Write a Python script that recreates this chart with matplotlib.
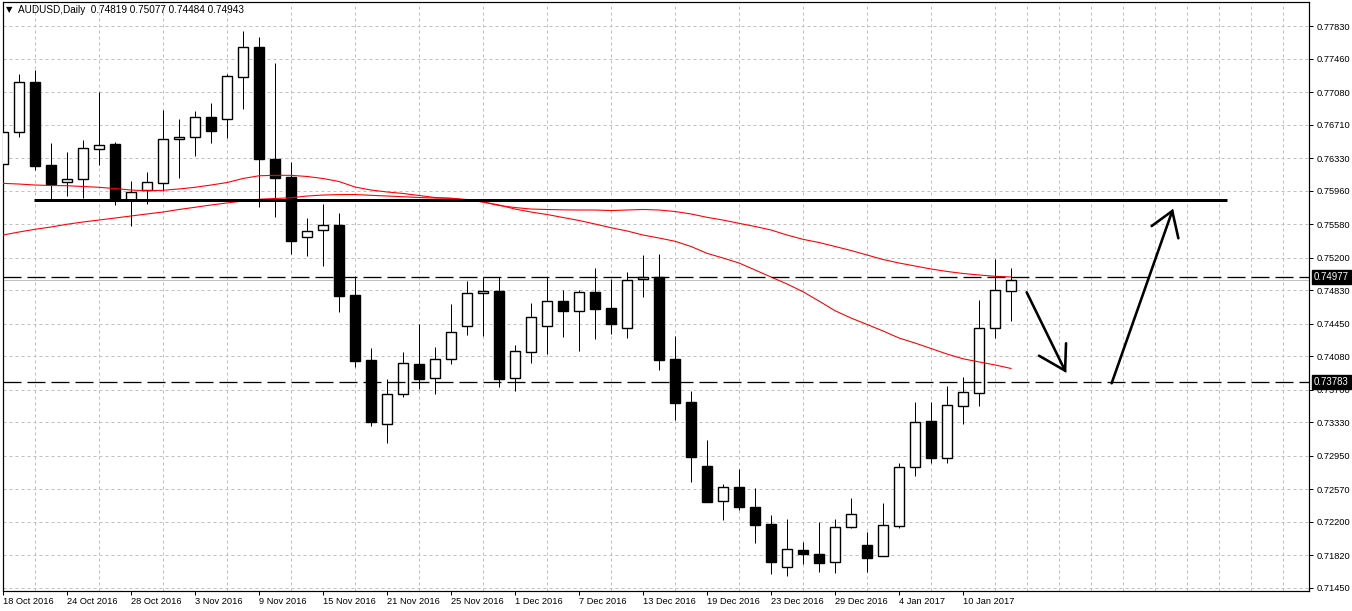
import matplotlib.pyplot as plt
from matplotlib.patches import Rectangle
from matplotlib.transforms import blended_transform_factory
import numpy as np

plt.rcParams['font.family'] = ['Liberation Sans', 'DejaVu Sans']

title = 'AUDUSD,Daily  0.74819 0.75077 0.74484 0.74943'

# daily bars, 18 Oct 2016 .. 13 Jan 2017
opens = [0.76259, 0.76623, 0.77194, 0.76251, 0.76062, 0.76089, 0.76430, 0.76490,
         0.75854, 0.75967, 0.76050, 0.76543, 0.76566, 0.76793, 0.76770, 0.77247,
         0.77588, 0.76316, 0.76115, 0.75430, 0.75509, 0.75570, 0.74775, 0.74036,
         0.73306, 0.73647, 0.73991, 0.73828, 0.74044, 0.74422, 0.74794, 0.74820,
         0.73828, 0.74131, 0.74419, 0.74703, 0.74596, 0.74805, 0.74627, 0.74396,
         0.74953, 0.74976, 0.74048, 0.73563, 0.72832, 0.72431, 0.72590, 0.72367,
         0.72170, 0.71682, 0.71875, 0.71829, 0.71739, 0.72143, 0.71932, 0.71807,
         0.72154, 0.72818, 0.73343, 0.72920, 0.73517, 0.73658, 0.74396, 0.74819]
highs = [0.76887, 0.77285, 0.77330, 0.76498, 0.76395, 0.76535, 0.77080, 0.76509,
         0.76069, 0.76175, 0.76876, 0.76774, 0.76865, 0.76952, 0.77285, 0.77773,
         0.77702, 0.77413, 0.76282, 0.75649, 0.75808, 0.75706, 0.74994, 0.74169,
         0.73820, 0.74124, 0.74445, 0.74181, 0.74672, 0.74934, 0.74976, 0.74976,
         0.74207, 0.74680, 0.74976, 0.74831, 0.74831, 0.75081, 0.74956, 0.75032,
         0.75229, 0.75240, 0.74312, 0.73684, 0.73128, 0.72628, 0.72798, 0.72582,
         0.72276, 0.72230, 0.71966, 0.72193, 0.72230, 0.72465, 0.72079, 0.72409,
         0.72863, 0.73556, 0.73556, 0.73741, 0.73840, 0.74718, 0.75184, 0.75077]
lows = [0.76228, 0.76573, 0.76194, 0.75854, 0.75899, 0.75880, 0.76251, 0.75797,
        0.75562, 0.75808, 0.75959, 0.76107, 0.76357, 0.76505, 0.76561, 0.76884,
        0.75778, 0.75664, 0.75240, 0.75218, 0.75104, 0.74585, 0.73960, 0.73290,
        0.73097, 0.73619, 0.73707, 0.73647, 0.73991, 0.74320, 0.74312, 0.73733,
        0.73688, 0.73999, 0.74104, 0.74301, 0.74142, 0.74275, 0.74332, 0.74290,
        0.74748, 0.73923, 0.73355, 0.72654, 0.72423, 0.72219, 0.72333, 0.71961,
        0.71602, 0.71586, 0.71719, 0.71632, 0.71620, 0.72125, 0.71632, 0.71807,
        0.72131, 0.72719, 0.72870, 0.72870, 0.73306, 0.73514, 0.74290, 0.74484]
closes = [0.76623, 0.77191, 0.76243, 0.76039, 0.76092, 0.76441, 0.76478, 0.75854,
          0.75941, 0.76055, 0.76543, 0.76573, 0.76793, 0.76641, 0.77259, 0.77588,
          0.76316, 0.76107, 0.75391, 0.75498, 0.75566, 0.74767, 0.74028, 0.73336,
          0.73647, 0.73999, 0.73824, 0.74044, 0.74351, 0.74794, 0.74817, 0.73824,
          0.74135, 0.74525, 0.74703, 0.74596, 0.74805, 0.74619, 0.74449, 0.74945,
          0.74976, 0.74036, 0.73551, 0.72938, 0.72427, 0.72590, 0.72370, 0.72166,
          0.71745, 0.71886, 0.71829, 0.71734, 0.72143, 0.72284, 0.71791, 0.72159,
          0.72818, 0.73329, 0.72927, 0.73522, 0.73669, 0.74396, 0.74828, 0.74943]

# two moving averages (red)
ma_fast = [0.76043, 0.76035, 0.76024, 0.76018, 0.76016, 0.76007, 0.75998, 0.75984,
           0.75967, 0.75959, 0.75964, 0.75979, 0.75998, 0.76024, 0.76052, 0.76098,
           0.76129, 0.76134, 0.76134, 0.76121, 0.76098, 0.76064, 0.76001, 0.75967,
           0.75945, 0.75928, 0.75905, 0.75882, 0.75873, 0.75854, 0.75831, 0.75797,
           0.75751, 0.75717, 0.75689, 0.75655, 0.75621, 0.75581, 0.75539, 0.75502,
           0.75456, 0.75422, 0.75385, 0.75326, 0.75248, 0.75195, 0.75138, 0.75059,
           0.74979, 0.74900, 0.74812, 0.74706, 0.74596, 0.74513, 0.74440, 0.74366,
           0.74286, 0.74229, 0.74167, 0.74104, 0.74050, 0.74014, 0.73980, 0.73940]
ma_slow = [0.75456, 0.75490, 0.75521, 0.75547, 0.75578, 0.75604, 0.75626, 0.75649,
           0.75672, 0.75695, 0.75717, 0.75746, 0.75771, 0.75797, 0.75820, 0.75842,
           0.75862, 0.75871, 0.75879, 0.75899, 0.75910, 0.75915, 0.75916, 0.75907,
           0.75899, 0.75891, 0.75882, 0.75876, 0.75873, 0.75859, 0.75831, 0.75791,
           0.75768, 0.75751, 0.75746, 0.75742, 0.75740, 0.75740, 0.75734, 0.75740,
           0.75746, 0.75740, 0.75723, 0.75695, 0.75657, 0.75626, 0.75589, 0.75553,
           0.75513, 0.75456, 0.75407, 0.75371, 0.75326, 0.75280, 0.75229, 0.75178,
           0.75138, 0.75104, 0.75070, 0.75042, 0.75019, 0.75002, 0.74987, 0.74979]

date_labels = ['18 Oct 2016', '24 Oct 2016', '28 Oct 2016', '3 Nov 2016',
               '9 Nov 2016', '15 Nov 2016', '21 Nov 2016', '25 Nov 2016',
               '1 Dec 2016', '7 Dec 2016', '13 Dec 2016', '19 Dec 2016',
               '23 Dec 2016', '29 Dec 2016', '4 Jan 2017', '10 Jan 2017']
date_bars = [0, 4, 8, 12, 16, 20, 24, 28, 32, 36, 40, 44, 48, 52, 56, 60]

price_labels = ['0.77830', '0.77460', '0.77080', '0.76710', '0.76330', '0.75960',
                '0.75580', '0.75200', '0.74830', '0.74450', '0.74080', '0.73700',
                '0.73330', '0.72950', '0.72570', '0.72200', '0.71820', '0.71450']

support_line = 0.75850          # thick horizontal line
support_span = (1.94, 76.5)
levels = [0.74977, 0.73783]     # dashed levels
bid = 0.74943

# hand drawn arrows: shaft start, tip, two head ends
arrow_down = [(63.98, 0.74805), (66.38, 0.73915), (64.75, 0.74085), (66.44, 0.74226)]
arrow_up = [(69.29, 0.73772), (73.08, 0.75729), (71.79, 0.75558), (73.46, 0.75419)]

W, H = 1352, 611
fig = plt.figure(figsize=(W / 100, H / 100), dpi=100)
ax = fig.add_axes([3 / W, 20 / H, 1306 / W, 589 / H])

px = 0.72  # one pixel in points
n = len(opens)
x = np.arange(n)

# candles
ax.vlines(x, lows, highs, color='black', lw=px, zorder=2)
for i in range(n):
    o, c = opens[i], closes[i]
    fc = 'white' if c >= o else 'black'
    ax.add_patch(Rectangle((i - 0.32, min(o, c)), 0.64, abs(c - o),
                           fc=fc, ec='black', lw=1.4 * px, zorder=3))

# moving averages
ax.plot(x, ma_fast, color='#ff0000', lw=1.1 * px, zorder=4)
ax.plot(x, ma_slow, color='#ff0000', lw=1.1 * px, zorder=4)

# lines
ax.plot(support_span, [support_line, support_line], color='black', lw=3 * px,
        solid_capstyle='butt', zorder=5)
lw_lv = 1.3 * px
for lv in levels:
    # 18 px dash, 6 px gap
    ax.axhline(lv, color='black', lw=lw_lv,
               ls=(0, (18 * px / lw_lv, 6 * px / lw_lv)), zorder=5)
ax.axhline(bid, color='#c0c0c0', lw=1 * px, zorder=1.5)

for arr in (arrow_down, arrow_up):
    (x0, y0), (x1, y1), (xa, ya), (xb, yb) = arr
    ax.plot([x0, x1], [y0, y1], color='black', lw=2.6 * px,
            solid_capstyle='round', zorder=6)
    ax.plot([xa, x1, xb], [ya, y1, yb], color='black', lw=2.6 * px,
            solid_capstyle='round', solid_joinstyle='miter', zorder=6)

ax.set_xlim(0, 81.625)
ax.set_ylim(0.71412, 0.78103)

# axes, grid, ticks
for s in ax.spines.values():
    s.set_linewidth(1.2 * px)
    s.set_color('black')

ax.set_xticks(date_bars)
ax.set_xticklabels(date_labels)
ax.set_xticks(np.arange(0, 82, 2), minor=True)
ax.tick_params(axis='x', which='minor', length=0)
ax.tick_params(axis='x', which='major', length=3, width=px, pad=1.5,
               labelsize=6.7, direction='out')
for lab in ax.get_xticklabels():
    lab.set_ha('left')

ax.yaxis.tick_right()
ax.set_yticks([float(v) for v in price_labels])
ax.set_yticklabels(price_labels)
ax.tick_params(axis='y', length=3, width=px, pad=2.5, labelsize=6.7, direction='out')

grid_kw = dict(color='#c0c0c0', lw=px, ls=(0, (3, 3)))
ax.grid(True, which='minor', axis='x', **grid_kw)
ax.grid(True, which='major', axis='y', **grid_kw)
ax.set_axisbelow(True)

# highlighted price labels on the right
tr = blended_transform_factory(ax.transAxes, ax.transData)
for lv in levels:
    ax.text(1 + 5 / 1306, lv, f'{lv:.5f}', transform=tr, va='center', ha='left',
            fontsize=6.9, color='white', clip_on=False, zorder=10,
            bbox=dict(boxstyle='square,pad=0.22', fc='black', ec='black'))

# header
fig.text(6 / W, 1 - 10 / H, '\u25bc', fontsize=6, va='center', ha='left',
         family='DejaVu Sans')
fig.text(18 / W, 1 - 10 / H, title, fontsize=7.2, va='center', ha='left')

fig.savefig('out.png', dpi=100)
